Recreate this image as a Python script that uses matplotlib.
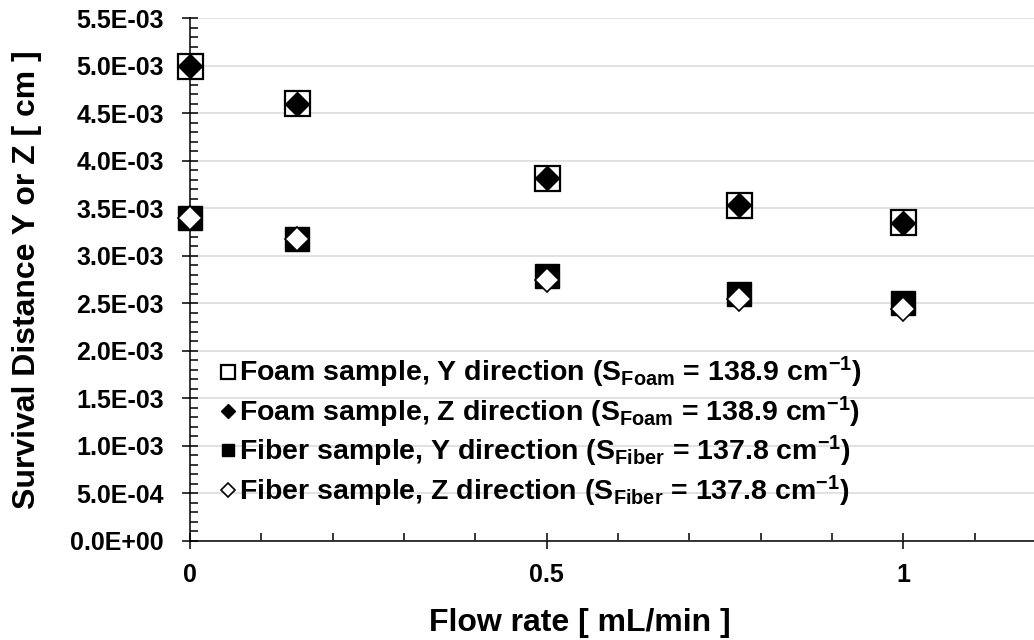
import matplotlib
matplotlib.use("Agg")
import matplotlib.pyplot as plt
from matplotlib.ticker import MultipleLocator, FuncFormatter

# dane
flow_rate = [0, 0.15, 0.5, 0.77, 1.0]
foam_y = [5.00e-3, 4.61e-3, 3.815e-3, 3.535e-3, 3.35e-3]
foam_z = [5.00e-3, 4.60e-3, 3.82e-3, 3.53e-3, 3.345e-3]
fiber_y = [3.40e-3, 3.18e-3, 2.79e-3, 2.60e-3, 2.50e-3]
fiber_z = [3.40e-3, 3.18e-3, 2.745e-3, 2.54e-3, 2.435e-3]

labels = [
    r"Foam sample, Y direction (S$_{Foam}$ = 138.9 cm$^{-1}$)",
    r"Foam sample, Z direction (S$_{Foam}$ = 138.9 cm$^{-1}$)",
    r"Fiber sample, Y direction (S$_{Fiber}$ = 137.8 cm$^{-1}$)",
    r"Fiber sample, Z direction (S$_{Fiber}$ = 137.8 cm$^{-1}$)",
]

plt.rcParams["font.family"] = ["Liberation Sans", "DejaVu Sans"]
plt.rcParams["font.weight"] = "bold"
plt.rcParams["mathtext.fontset"] = "custom"
plt.rcParams["mathtext.rm"] = "Liberation Sans:bold"
plt.rcParams["mathtext.bf"] = "Liberation Sans:bold"
plt.rcParams["mathtext.default"] = "rm"

fig = plt.figure(figsize=(10.34, 6.4), dpi=100)
ax = fig.add_axes([190 / 1034, 99 / 640, 844 / 1034, 523 / 640])

ax.plot(flow_rate, foam_y, ls="none", marker="s", ms=18, mfc="white", mec="black", mew=1.6,
        label=labels[0], zorder=3, clip_on=False)
ax.plot(flow_rate, foam_z, ls="none", marker="D", ms=12.5, mfc="black", mec="black", mew=1.0,
        label=labels[1], zorder=4, clip_on=False)
ax.plot(flow_rate, fiber_y, ls="none", marker="s", ms=17, mfc="black", mec="black", mew=1.0,
        label=labels[2], zorder=3, clip_on=False)
ax.plot(flow_rate, fiber_z, ls="none", marker="D", ms=12.5, mfc="white", mec="black", mew=1.2,
        label=labels[3], zorder=4, clip_on=False)

ax.set_xlim(0, 1.183)
ax.set_ylim(0, 5.5e-3)
ax.xaxis.set_major_locator(MultipleLocator(0.5))
ax.xaxis.set_minor_locator(MultipleLocator(0.1))
ax.yaxis.set_major_locator(MultipleLocator(0.5e-3))
ax.yaxis.set_minor_locator(MultipleLocator(0.1e-3))
ax.xaxis.set_major_formatter(FuncFormatter(lambda v, p: "%g" % v))
ax.yaxis.set_major_formatter(FuncFormatter(lambda v, p: "%.1E" % v))

ax.tick_params(which="major", direction="inout", length=11.5, width=1.1, labelsize=18, pad=10)
ax.tick_params(axis="y", which="major", pad=13)
ax.tick_params(which="minor", direction="in", length=5.8, width=1.1)
ax.spines["top"].set_visible(False)
ax.spines["right"].set_visible(False)
ax.spines["left"].set_linewidth(1.1)
ax.spines["bottom"].set_linewidth(1.1)
ax.grid(True, axis="y", which="major", color="#dcdcdc", linewidth=1.2)
ax.set_axisbelow(True)

ax.set_xlabel("Flow rate [ mL/min ]", fontsize=23, fontweight="bold")
ax.set_ylabel("Survival Distance Y or Z [ cm ]", fontsize=23, fontweight="bold")
ax.xaxis.set_label_coords(0.462, -0.128)
ax.yaxis.set_label_coords(-0.175, 0.5)

ax.legend(loc="upper left", bbox_to_anchor=(221 / 1034, 1 - 355 / 640), bbox_transform=fig.transFigure,
          frameon=False, fontsize=20.5, markerscale=0.55, handlelength=0.5, handletextpad=0.12,
          labelspacing=0.15, borderpad=0, borderaxespad=0)

plt.savefig("out.png", dpi=100)
